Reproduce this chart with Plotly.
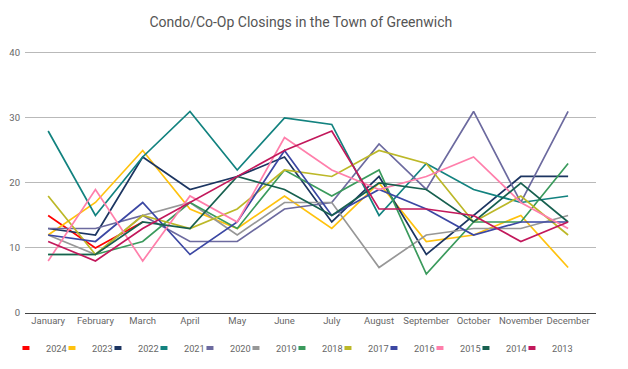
import plotly.graph_objects as go

months = ["January", "February", "March", "April", "May", "June", "July",
          "August", "September", "October", "November", "December"]

y2024 = [15, 10, 14]
y2023 = [12, 17, 25, 16, 13, 18, 13, 20, 11, 12, 15, 7]
y2022 = [13, 12, 24, 19, 21, 24, 14, 21, 9, 15, 21, 21]
y2021 = [28, 15, 24, 31, 22, 30, 29, 15, 23, 19, 17, 18]
y2020 = [13, 13, 15, 11, 11, 16, 17, 26, 19, 31, 17, 31]
y2019 = [12, 9, 15, 17, 12, 17, 17, 7, 12, 13, 13, 15]
y2018 = [9, 9, 11, 17, 13, 22, 18, 22, 6, 14, 14, 23]
y2017 = [18, 9, 15, 13, 16, 22, 21, 25, 23, 14, 18, 12]
y2016 = [12, 11, 17, 9, 14, 25, 15, 19, 16, 12, 14, 14]
y2015 = [8, 19, 8, 18, 14, 27, 22, 19, 21, 24, 17, 13]
y2014 = [9, 9, 14, 13, 21, 19, 15, 20, 19, 14, 20, 14]
y2013 = [11, 8, 13, 17, 21, 25, 28, 16, 16, 15, 11, 14]

years = ["2024", "2023", "2022", "2021", "2020", "2019", "2018", "2017",
         "2016", "2015", "2014", "2013"]
series = [y2024, y2023, y2022, y2021, y2020, y2019, y2018, y2017,
          y2016, y2015, y2014, y2013]
colors = ["#ff0000", "#ffc20e", "#1c3561", "#12827f", "#6c6a9f", "#979797",
          "#3a9a5c", "#bcb828", "#3b47a3", "#ff7fab", "#17604f", "#c2185b"]

fig = go.Figure()
for name, vals, col in zip(years, series, colors):
    fig.add_trace(go.Scatter(
        x=months[:len(vals)], y=vals, name=name, mode="lines",
        line=dict(color=col, width=1.7), showlegend=False,
    ))
# legend entries (small rectangular swatches)
for i, (name, col) in enumerate(zip(years, colors)):
    fig.add_trace(go.Scatter(
        x=[None], y=[None], name=name, mode="markers",
        marker=dict(symbol="line-ew-open", size=5, color=col,
                    line=dict(color=col, width=4)),
        showlegend=True,
        legendwidth=(23 if i == len(years) - 1 else None),
    ))

fig.update_layout(
    width=628, height=369,
    margin=dict(l=25, r=32, t=51, b=56),
    paper_bgcolor="white", plot_bgcolor="white",
    font=dict(family="Roboto", size=10, color="#666666"),
    title=dict(text="Condo/Co-Op Closings in the Town of Greenwich",
               x=0.479, xanchor="center", y=0.94, yanchor="middle",
               font=dict(family="Roboto", size=14, color="#555555")),
    xaxis=dict(type="category", categoryorder="array", categoryarray=months,
               range=[-0.49, 11.59], showgrid=False, zeroline=False,
               showline=False, ticks="", automargin=False,
               tickfont=dict(size=9.5, color="#666666")),
    yaxis=dict(range=[0, 40.3], tickvals=[0, 10, 20, 30, 40],
               showgrid=True, gridcolor="#b9b9b9", gridwidth=1,
               zeroline=True, zerolinecolor="#444444", zerolinewidth=1,
               ticks="", automargin=False,
               tickfont=dict(size=9.5, color="#666666"), ticklabelstandoff=4),
    legend=dict(orientation="h", xref="container", yref="container",
                x=0.0095, xanchor="left", y=0.057, yanchor="middle",
                entrywidth=1, entrywidthmode="pixels", bgcolor="rgba(0,0,0,0)",
                font=dict(size=9.2, color="#666666"), itemclick=False),
    showlegend=True,
)

fig.write_html("out.html", config={"displayModeBar": False},
               post_script="document.body.style.margin='0';")
